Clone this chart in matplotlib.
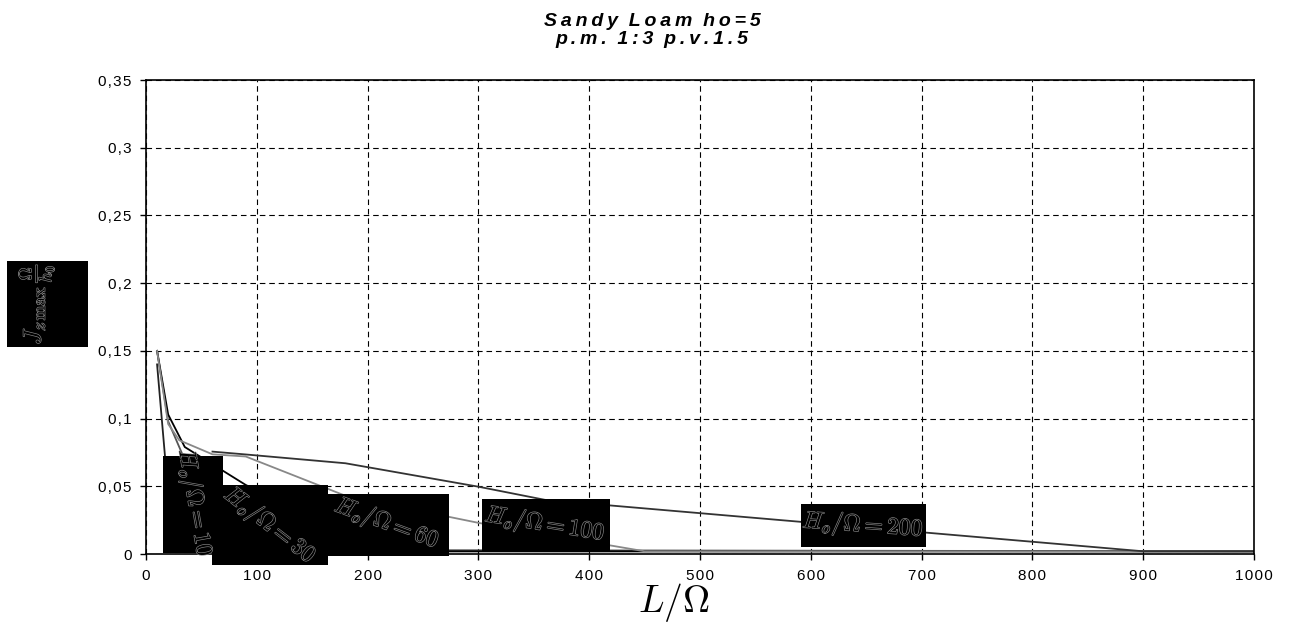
import matplotlib
matplotlib.use("Agg")
from matplotlib import pyplot as plt
from matplotlib.patches import Rectangle
import matplotlib.patheffects as pe

plt.rcParams['font.family'] = ['Liberation Sans', 'DejaVu Sans']
plt.rcParams['mathtext.fontset'] = 'cm'

# data
x_h10 = [10, 20, 40, 60, 1000]
y_h10 = [0.140, 0.045, 0.004, 0.002, 0.002]
x_h30 = [10, 20, 40, 90, 1000]
y_h30 = [0.150, 0.098, 0.060, 0.003, 0.002]
x_h60 = [10, 20, 35, 90, 180, 270, 1000]
y_h60 = [0.150, 0.103, 0.079, 0.051, 0.015, 0.002, 0.002]
x_h100 = [10, 20, 30, 60, 90, 180, 300, 450, 1000]
y_h100 = [0.150, 0.096, 0.084, 0.0736, 0.072, 0.043, 0.023, 0.002, 0.002]
x_h200 = [60, 90, 180, 300, 360, 900, 1000]
y_h200 = [0.0756, 0.0735, 0.067, 0.0497, 0.040, 0.002, 0.002]

labels = ["10", "30", "60", "100", "200"]
yticks = [0, 0.05, 0.1, 0.15, 0.2, 0.25, 0.3, 0.35]
ytick_labels = ["0", "0,05", "0,1", "0,15", "0,2", "0,25", "0,3", "0,35"]
xticks = list(range(0, 1001, 100))

sp = "\u200a"  # hair space, for the wide letter spacing of the original


def track(s, gap=sp):
    return gap.join(s)


W, H = 1289, 622
fig = plt.figure(figsize=(W / 100, H / 100), dpi=100)
ax = fig.add_axes([146 / W, (H - 554) / H, (1254 - 146) / W, (554 - 80) / H])

ax.plot(x_h10, y_h10, color='#222222', lw=1.3)
ax.plot(x_h30, y_h30, color='#555555', lw=1.3)
ax.plot(x_h60, y_h60, color='black', lw=1.3)
ax.plot(x_h100, y_h100, color='#888888', lw=1.3)
ax.plot(x_h200, y_h200, color='#333333', lw=1.3)

ax.set_xlim(0, 1000)
ax.set_ylim(0, 0.35)
ax.set_xticks(xticks)
ax.set_xticklabels([track(str(t)) for t in xticks], fontsize=11)
ax.set_yticks(yticks)
ax.set_yticklabels([track(t) for t in ytick_labels], fontsize=11)
ax.tick_params(direction='out', length=4.5, width=1, pad=6)
ax.grid(True, color='black', linestyle=(0, (5, 3.5)), linewidth=0.8)
for s in ax.spines.values():
    s.set_linewidth(1.2)


def pix_box(x0, y0, x1, y1):
    # pixel box (top-left origin) -> black rectangle on the figure
    r = Rectangle((x0 / W, 1 - y1 / H), (x1 - x0) / W, (y1 - y0) / H,
                  transform=fig.transFigure, facecolor='black',
                  edgecolor='none', zorder=5)
    fig.add_artist(r)


hollow = [pe.Stroke(linewidth=0.9, foreground='#8a8a8a'), pe.Normal()]

# label boxes: (x0, y0, x1, y1, text center x, y, rotation)
boxes = [
    (163, 456, 223, 553, 195, 503, -80),
    (212, 485, 328, 565, 270, 525, -38),
    (328, 494, 449, 556, 387, 523, -20),
    (482, 499, 610, 552, 545, 524, -9),
    (801, 504, 926, 547, 863, 525, -4),
]
for (x0, y0, x1, y1, tx, ty, rot), lab in zip(boxes, labels):
    pix_box(x0, y0, x1, y1)
    fig.text(tx / W, 1 - ty / H, r'$H_o/\Omega=' + lab + '$', fontsize=17,
             color='black', rotation=rot, ha='center', va='center',
             rotation_mode='anchor', zorder=6, path_effects=hollow)

# y label box
pix_box(7, 261, 88, 347)
fig.text(37 / W, 1 - 304 / H, r'$J_{z\,\max}\,\frac{\Omega}{h_0}$', fontsize=18,
         color='black', rotation=90, ha='center', va='center', zorder=6,
         path_effects=hollow)

# x label
fig.text(674 / W, 1 - 603 / H, r'$L/\Omega$', fontsize=27, ha='center',
         va='center')

# title
thin = "\u2009"
t1 = "  ".join(track(w, thin) for w in ["Sandy", "Loam", "ho=5"])
t2 = "  ".join(track(w, thin) for w in ["p.m.", "1:3", "p.v.1.5"])
fig.text(652 / W, 1 - 21 / H, t1, fontsize=14, fontweight='bold',
         fontstyle='italic', ha='center', va='center')
fig.text(652 / W, 1 - 39 / H, t2, fontsize=14, fontweight='bold',
         fontstyle='italic', ha='center', va='center')

fig.savefig("out.png", dpi=100)
